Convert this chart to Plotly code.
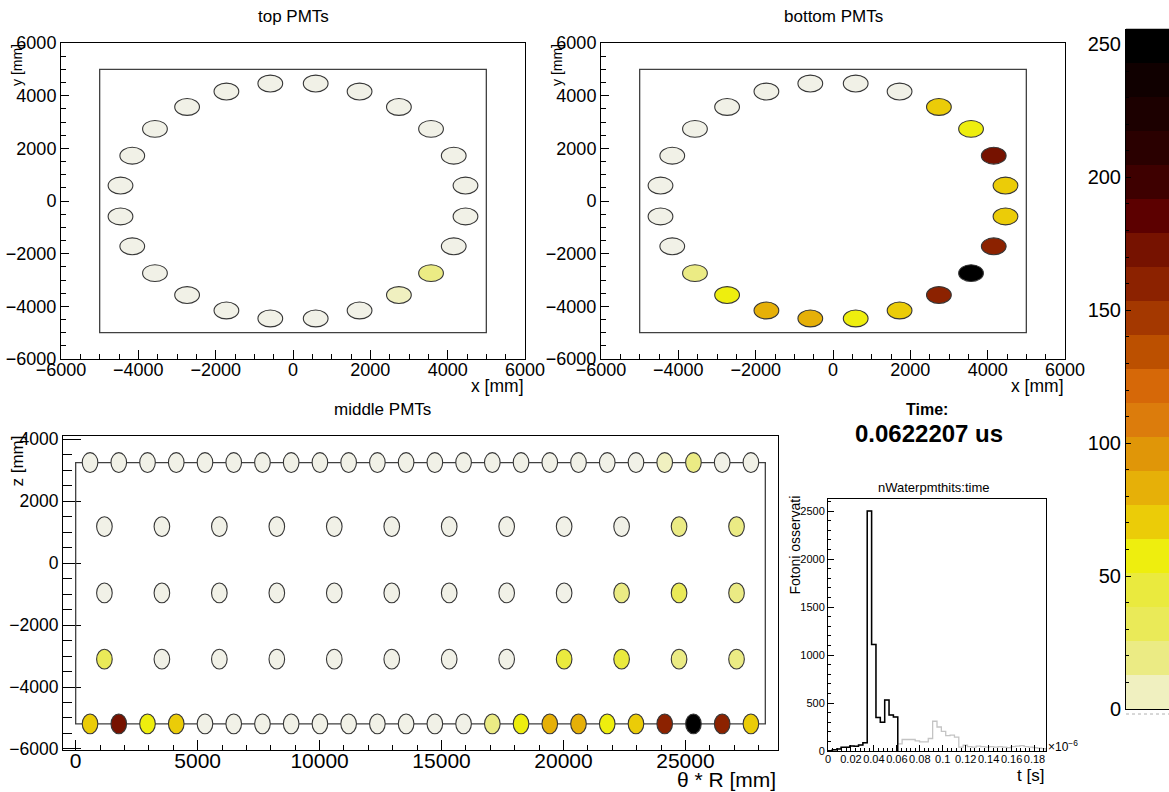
import plotly.graph_objects as go

W, H = 1169, 792
FONT = "Liberation Sans, Arial, Helvetica, sans-serif"

# ---------------------------------------------------------------- PMT layout
# 24 PMTs on the top / bottom caps (ring of radius 4500 mm), x and y in mm
RING_X = [4461, 4157, 3570, 2739, 1722, 587, -587, -1722, -2739, -3570, -4157, -4461,
          -4461, -4157, -3570, -2739, -1722, -587, 587, 1722, 2739, 3570, 4157, 4461]
RING_Y = [587, 1722, 2739, 3570, 4157, 4461, 4461, 4157, 3570, 2739, 1722, 587,
          -587, -1722, -2739, -3570, -4157, -4461, -4461, -4157, -3570, -2739, -1722, -587]

# photons collected per PMT
TOP_HITS = [0, 0, 0, 0, 0, 0, 0, 0, 0, 0, 0, 0,
            0, 0, 0, 0, 0, 0, 0, 0, 6, 20, 0, 0]
BOTTOM_HITS = [70, 172, 62, 72, 0, 0, 0, 0, 0, 0, 0, 0,
               0, 0, 20, 58, 82, 80, 56, 66, 160, 250, 165, 72]

# barrel PMTs, unrolled (theta * R, z) in mm
MID_X_DENSE = [589, 1767, 2945, 4123, 5301, 6479, 7657, 8835, 10013, 11191, 12369, 13547,
               14725, 15903, 17081, 18259, 19437, 20615, 21793, 22971, 24149, 25327, 26505, 27683]
MID_X_SPARSE = [1178, 3534, 5890, 8246, 10602, 12958, 15314, 17670, 20026, 22382, 24738, 27094]
MID_ROW_Z = [3250, 1180, -960, -3100, -5190]
MID_HITS = [
    [0, 0, 0, 0, 0, 0, 0, 0, 0, 0, 0, 0, 0, 0, 0, 0, 0, 0, 0, 0, 6, 20, 0, 0],
    [0, 0, 0, 0, 0, 0, 0, 0, 0, 0, 18, 18],
    [0, 0, 0, 0, 0, 0, 0, 0, 0, 14, 36, 20],
    [30, 0, 0, 0, 0, 0, 0, 0, 40, 42, 24, 24],
    [70, 172, 62, 72, 0, 0, 0, 0, 0, 0, 0, 0, 0, 0, 20, 58, 82, 80, 56, 66, 160, 250, 165, 72],
]

PMT_RADIUS = 320
TANK_HALF = 5000          # cap outline half-width, mm
TANK_Z = (-5190, 3250)    # barrel outline, mm
TANK_UNROLLED = 28274     # 2*pi*R, mm

# ------------------------------------------------------------ time histogram
HIST_XMAX = 0.19          # x 1e-6 s
HIST_NBINS = 50
HIST_COUNTS = [3, 12, 22, 38, 40, 52, 50, 62, 85, 2500, 1110, 350, 300, 530, 375, 355,
               75, 120, 120, 120, 105, 95, 95, 130, 310, 250, 205, 160, 165, 145,
               40, 60, 45, 40, 50, 45, 40, 45, 40, 45, 40, 35, 45, 50, 55, 45, 40, 35, 30, 25]
T_NOW = 0.0622207

# ------------------------------------------------------------------- palette
PALETTE = ["#f0f0c0", "#ebeb84", "#eaea58", "#eaea3e", "#eeee0e", "#ebcc08", "#e6b008",
           "#e09608", "#dc7c0c", "#d66808", "#bc5000", "#a43800", "#8c2200", "#761200",
           "#5c0000", "#3e0000", "#2a0000", "#1c0000", "#100000", "#000000"]
Z_MAX = 256
UNHIT_COLOR = "#f1f1e7"
OUTLINE = "#363636"


def fx(p):
    return p / W


def fy(p):
    return 1 - p / H


def hit_color(v):
    if v <= 0:
        return UNHIT_COLOR
    i = min(int(v / Z_MAX * len(PALETTE)), len(PALETTE) - 1)
    return PALETTE[i]


fig = go.Figure()
shapes = []


def add_pmts(xs, ys, hits, xa, ya):
    fig.add_trace(go.Scatter(x=xs, y=ys, mode="markers", xaxis=xa, yaxis=ya,
                             marker=dict(size=1, opacity=0), customdata=hits,
                             hovertemplate="%{x}, %{y}: %{customdata}<extra></extra>"))
    for x, y, v in zip(xs, ys, hits):
        shapes.append(dict(type="circle", xref=xa, yref=ya,
                           x0=x - PMT_RADIUS, x1=x + PMT_RADIUS,
                           y0=y - PMT_RADIUS, y1=y + PMT_RADIUS,
                           fillcolor=hit_color(v), line=dict(color=OUTLINE, width=1.1)))


# cap outlines
for xa, ya in (("x", "y"), ("x2", "y2")):
    shapes.append(dict(type="rect", xref=xa, yref=ya, x0=-TANK_HALF, x1=TANK_HALF,
                       y0=-TANK_HALF, y1=TANK_HALF, line=dict(color="#404040", width=1.3)))
# barrel outline
shapes.append(dict(type="rect", xref="x3", yref="y3", x0=0, x1=TANK_UNROLLED,
                   y0=TANK_Z[0], y1=TANK_Z[1], line=dict(color="#404040", width=1.3)))

add_pmts(RING_X, RING_Y, TOP_HITS, "x", "y")
add_pmts(RING_X, RING_Y, BOTTOM_HITS, "x2", "y2")
for z, hits in zip(MID_ROW_Z, MID_HITS):
    xs = MID_X_DENSE if len(hits) == len(MID_X_DENSE) else MID_X_SPARSE
    add_pmts(xs, [z] * len(xs), hits, "x3", "y3")

# time histogram: full in grey, elapsed part in black
width = HIST_XMAX / HIST_NBINS
edges = [i * width for i in range(HIST_NBINS + 1)]


def step_xy(counts, n):
    xs = [edges[0], edges[0]] + edges[1:n] + [edges[n]]
    ys = [0] + list(counts[:n]) + [0]
    return xs, ys


gx, gy = step_xy(HIST_COUNTS, HIST_NBINS)
fig.add_trace(go.Scatter(x=gx, y=gy, mode="lines", line=dict(color="#c4c4c4", width=1.3, shape="hv"),
                         xaxis="x4", yaxis="y4", hoverinfo="skip"))
n_done = sum(1 for i in range(HIST_NBINS) if edges[i + 1] <= T_NOW)
bx, by = step_xy(HIST_COUNTS, n_done)
fig.add_trace(go.Scatter(x=bx, y=by, mode="lines", line=dict(color="black", width=1.5, shape="hv"),
                         xaxis="x4", yaxis="y4", hoverinfo="skip"))

# palette bar
nb = len(PALETTE)
band_w = Z_MAX / nb
centers = [band_w * (i + 0.5) for i in range(nb)]
cscale = []
for i, c in enumerate(PALETTE):
    cscale += [[i / nb, c], [(i + 1) / nb, c]]
fig.add_trace(go.Heatmap(z=[[c] for c in centers], x=[0], y=centers, colorscale=cscale,
                         zmin=0, zmax=Z_MAX, showscale=False, xaxis="x5", yaxis="y5",
                         hoverinfo="skip"))


def axis(domain, rng, dtick, mdtick, size, tlen, mlen, anchor, **kw):
    d = dict(domain=domain, range=rng, dtick=dtick, tick0=0, anchor=anchor,
             autorange=False, automargin=False, tickangle=0,
             exponentformat="none", separatethousands=False,
             showline=True, linecolor="black", linewidth=1, mirror=True,
             ticks="inside", ticklen=tlen, tickcolor="black", tickwidth=1,
             showgrid=False, zeroline=False,
             tickfont=dict(family=FONT, size=size, color="black"),
             minor=dict(ticks="inside", ticklen=mlen, dtick=mdtick, tickcolor="black", showgrid=False))
    d.update(kw)
    return d


top_y = [fy(359), fy(43)]
fig.update_layout(
    template="none",
    xaxis=axis([fx(61), fx(525)], [-6000, 6000], 2000, 500, 18, 9, 5, "y",
               tickformat="d", ticklabelstandoff=-6),
    yaxis=axis(top_y, [-6000, 6000], 2000, 500, 18, 8, 5, "x", tickformat="d"),
    xaxis2=axis([fx(601), fx(1065)], [-6000, 6000], 2000, 500, 18, 9, 5, "y2",
                tickformat="d", ticklabelstandoff=-6),
    yaxis2=axis(top_y, [-6000, 6000], 2000, 500, 18, 8, 5, "x2", tickformat="d"),
    xaxis3=axis([fx(63), fx(778)], [-520, 28794], 5000, 1000, 21, 10, 5, "y3",
                tickformat="d", ticklabelstandoff=-8),
    yaxis3=axis([fy(750), fy(436)], [-6035, 4107], 2000, 500, 17.5, 18, 9, "x3", tickformat="d"),
    xaxis4=axis([fx(828), fx(1046)], [0, HIST_XMAX], 0.02, 0.004, 11, 6, 3, "y4",
                ticklabelstandoff=-2),
    yaxis4=axis([fy(751), fy(499)], [0, 2625], 500, 100, 11, 6, 3, "x4", tickformat="d"),
    xaxis5=dict(domain=[fx(1126), 1], range=[-0.5, 0.5], anchor="y5", showticklabels=False,
                automargin=False, ticks="", showline=True, linecolor="black",
                showgrid=False, zeroline=False),
    yaxis5=axis([fy(709), fy(28.5)], [0, Z_MAX], 50, 10, 20, 5, 3, "x5", mirror=False,
                tickformat="d"),
)

annotations = []


def label(text, x, y, size, xanchor="center", yanchor="middle", angle=0):
    annotations.append(dict(text=text, x=fx(x), y=fy(y), xref="paper", yref="paper",
                            showarrow=False, xanchor=xanchor, yanchor=yanchor, textangle=angle,
                            font=dict(family=FONT, size=size, color="black")))


label("top PMTs", 293, 17, 17)
label("bottom PMTs", 833, 17, 17)
label("middle PMTs", 382, 410, 17)
label("x [mm]", 526, 386, 17.5, xanchor="right")
label("x [mm]", 1066, 386, 17.5, xanchor="right")
label("y [mm]", 17, 42, 14, yanchor="top", angle=-90)
label("y [mm]", 557, 42, 14, yanchor="top", angle=-90)
label("z [mm]", 17, 434, 17, yanchor="top", angle=-90)
label("θ * R [mm]", 778, 779, 21, xanchor="right")
label("nWaterpmthits:time", 934, 487, 13)
label("Fotoni osservati", 794, 494, 14, yanchor="top", angle=-90)
label("t [s]", 1046, 775, 17, xanchor="right")
label("×10<sup>−6</sup>", 1046, 746, 12, xanchor="left")
label("<b>Time:</b>", 927, 409, 16)
label("<b>0.0622207 us</b>", 929, 433, 24)

shapes.append(dict(type="line", xref="paper", yref="paper", x0=fx(1126), x1=1,
                   y0=fy(714), y1=fy(714), line=dict(color="#b0b0b0", width=1, dash="dot")))

fig.update_layout(width=W, height=H, margin=dict(l=0, r=0, t=0, b=0, pad=0),
                  paper_bgcolor="white", plot_bgcolor="white", showlegend=False,
                  shapes=shapes, annotations=annotations,
                  font=dict(family=FONT, color="black"))

fig.write_html("out.html")
